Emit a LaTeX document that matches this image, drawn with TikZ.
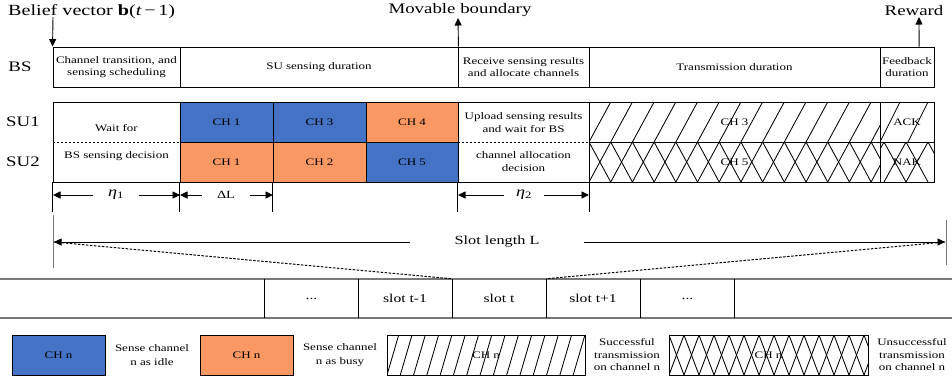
\documentclass[tikz,border=0pt]{standalone}
\usepackage{fontspec}
\setmainfont{Liberation Serif}[FakeStretch=1.3]
\usetikzlibrary{arrows.meta,calc}
\definecolor{idleblue}{RGB}{68,114,196}
\definecolor{busyorange}{RGB}{250,152,100}
\definecolor{railgray}{RGB}{120,120,120}

\begin{document}
\begin{tikzpicture}[x=1pt,y=-1pt,
  txt/.style={font=\fontsize{10}{12.5}\selectfont, align=center, inner sep=0pt},
  cell/.style={draw=black, line width=0.9pt, inner sep=0pt, align=center,
    font=\fontsize{10}{12.5}\selectfont, minimum height=40pt},
  idle/.style={cell, fill=idleblue},
  busy/.style={cell, fill=busyorange},
  big/.style={font=\fontsize{14.5}{17}\selectfont, inner sep=0pt},
  arr/.style={-{Triangle[length=7.5pt,width=7pt]}, line width=0.9pt},
  hatchline/.style={line width=0.85pt},
  sep/.style={line width=1pt, dash pattern=on 2.5pt off 1.5pt},
  tick/.style={line width=0.9pt},
  rail/.style={draw=railgray, line width=1.8pt},
]
\path[use as bounding box] (0,0) rectangle (952,384);

% ---------- hatching behind the transmission cells ----------
\begin{scope}
  \clip (589,102) rectangle (880,142);
  \foreach \k in {-1,...,14}
    \draw[hatchline] ({589+21.7*\k},142) -- ({589+21.7*(\k+1)},102);
\end{scope}
\begin{scope}
  \clip (589,142) rectangle (880,182);
  \foreach \k in {-1,...,15} {
    \draw[hatchline] ({589+21.7*\k},142) -- ({589+21.7*(\k+1)},182);
    \draw[hatchline] ({589+21.7*\k},142) -- ({589+21.7*(\k-1)},182);
  }
\end{scope}
\begin{scope}
  \clip (880,102) rectangle (934,142);
  \foreach \t in {900,928}
    \draw[hatchline] ({\t-20},142) -- (\t,102);
\end{scope}
\begin{scope}
  \clip (880,142) rectangle (934,182);
  \foreach \t in {884,906,928} {
    \draw[hatchline] (\t,142) -- ({\t+22},182);
    \draw[hatchline] (\t,142) -- ({\t-22},182);
  }
\end{scope}
% legend hatching
\begin{scope}
  \clip (387,335) rectangle (585,375);
  \foreach \k in {-1,...,15}
    \draw[hatchline] ({387+13.3*\k},375) -- ({387+13.3*\k+11.7},335);
\end{scope}
\begin{scope}
  \clip (669,335) rectangle (868,375);
  \foreach \k in {-1,...,14} {
    \draw[hatchline] ({669+15*\k},335) -- ({669+15*(\k+1)},375);
    \draw[hatchline] ({669+15*\k},335) -- ({669+15*(\k-1)},375);
  }
\end{scope}

% ---------- BS row ----------
\node[big] (lbs) at (20,67) {BS};
\node[cell, minimum width=127pt] (bs1) at (116.5,67) {Channel transition, and\\sensing scheduling};
\node[cell, minimum width=278pt] (bs2) at (319,67) {SU sensing duration};
\node[cell, minimum width=131pt] (bs3) at (523.5,67) {Receive sensing results\\and allocate channels};
\node[cell, minimum width=291pt] (bs4) at (734.5,67) {Transmission duration};
\node[cell, minimum width=54pt] (bs5) at (907,67) {Feedback\\duration};

% ---------- top annotations ----------
\node[big, font=\fontsize{15.5}{18}\selectfont, anchor=base west] (belief) at (8,15) {Belief vector \textbf{b}(\textit{t}\,−\,1)};
\node[big, anchor=base] (movable) at (460,13) {Movable boundary};
\node[big, anchor=base] (reward) at (914,15) {Reward};
\coordinate (belieftop) at (53,17);
\coordinate (movtop) at (458,18);
\coordinate (rwtop) at (919,17);
\draw[arr] (belieftop) -- (bs1.north west);
\draw[arr] (bs2.north east) -- (movtop);
\draw[arr] ($(bs5.north west)!0.72!(bs5.north east)$) -- (rwtop);

% ---------- SU rows ----------
\node[big] (lsu1) at (23,122) {SU1};
\node[big] (lsu2) at (23,162) {SU2};
\node[cell, minimum width=127pt, minimum height=80pt] (wt) at (116.5,142) {};
\draw[sep] (wt.west) -- (wt.east);
\node[txt] (wt1) at (116.5,128) {Wait for};
\node[txt] (wt2) at (116.5,156) {BS sensing decision};

\node[idle, minimum width=93pt] (c11) at (226.5,122) {CH 1};
\node[idle, minimum width=93pt] (c13) at (319.5,122) {CH 3};
\node[busy, minimum width=92pt] (c14) at (412,122) {CH 4};
\node[busy, minimum width=93pt] (c21) at (226.5,162) {CH 1};
\node[busy, minimum width=93pt] (c22) at (319.5,162) {CH 2};
\node[idle, minimum width=92pt] (c25) at (412,162) {CH 5};

\node[cell, minimum width=131pt, minimum height=80pt] (up) at (523.5,142) {};
\draw[sep] (up.west) -- (up.east);
\node[txt] (up1) at (523.5,122.5) {Upload sensing results\\and wait for BS};
\node[txt] (up2) at (523.5,161.5) {channel allocation\\decision};

\node[cell, minimum width=291pt] (t1) at (734.5,122) {CH 3};
\node[cell, minimum width=291pt] (t2) at (734.5,162) {CH 5};
\node[cell, minimum width=54pt] (ack) at (907,122) {ACK};
\node[cell, minimum width=54pt] (nak) at (907,162) {NAK};

% ---------- durations ----------
\coordinate (d0) at (53,195);
\coordinate (d1) at (180,195);
\coordinate (d2) at (273,195);
\coordinate (d3) at (458,195);
\coordinate (d4) at (589,195);
\draw[tick] (wt.south west) -- ++(0,30);
\draw[tick] (c21.south west) -- ++(0,30);
\draw[tick] (c22.south west) -- ++(0,30);
\draw[tick] (up.south west) -- ++(0,30);
\draw[tick] (up.south east) -- ++(0,30);
\node[txt, font=\fontsize{14}{16}\selectfont, minimum width=45pt] (eta1) at (116,195) {\textit{η}\textsubscript{1}};
\node[txt, font=\fontsize{11}{13}\selectfont, minimum width=48pt] (dl) at (226,195) {ΔL};
\node[txt, font=\fontsize{14}{16}\selectfont, minimum width=40pt] (eta2) at (524,195) {\textit{η}\textsubscript{2}};
\draw[arr] (eta1) -- (d0);
\draw[arr] (eta1) -- (d1);
\draw[arr] (dl) -- (d1);
\draw[arr] (dl) -- (d2);
\draw[arr] (eta2) -- (d3);
\draw[arr] (eta2) -- (d4);

% ---------- slot length ----------
\coordinate (Lleft) at (54,242);
\coordinate (Lright) at (945,242);
\draw[tick, draw=railgray] (53,215) -- (53,268);
\draw[tick, draw=railgray] (946,220) -- (946,265);
\node[txt, font=\fontsize{12.5}{15}\selectfont, minimum width=173pt] (slL) at (497,242) {Slot length L};
\draw[arr] (slL.west) -- (Lleft);
\draw[arr] (slL.east) -- (Lright);

% ---------- slot sequence ----------
\draw[rail] (0,279) -- (952,279);
\draw[rail] (0,318) -- (952,318);
\begin{scope}[every node/.style={txt, font=\fontsize{12}{14}\selectfont, minimum width=93.5pt, minimum height=39pt}]
  \node (sa) at (311.5,298.5) {...};
  \node (sb) at (405,298.5) {slot t-1};
  \node (st) at (499,298.5) {slot t};
  \node (sc) at (593,298.5) {slot t+1};
  \node (sd) at (687.5,298.5) {...};
\end{scope}
\foreach \s in {sa,sb,st,sc,sd}
  \draw[tick] (\s.north west) -- (\s.south west);
\draw[tick] (sd.north east) -- (sd.south east);
\draw[sep] (Lleft) -- (st.north west);
\draw[sep] (Lright) -- (st.north east);

% ---------- legend ----------
\node[idle, minimum width=93pt] (lg1) at (58.5,355) {CH n};
\node[txt, font=\fontsize{10}{14}\selectfont] (lt1) at (152,355) {Sense channel\\n as idle};
\node[busy, minimum width=93pt] (lg2) at (246.5,355) {CH n};
\node[txt, font=\fontsize{10}{14}\selectfont] (lt2) at (340,355) {Sense channel\\n as busy};
\node[cell, minimum width=198pt] (lg3) at (486,355) {CH n};
\node[txt] (lt3) at (627,355) {Successful\\transmission\\on channel n};
\node[cell, minimum width=199pt] (lg4) at (768.5,355) {CH n};
\node[txt] (lt4) at (912,355) {Unsuccessful\\transmission\\on channel n};
\end{tikzpicture}
\end{document}
